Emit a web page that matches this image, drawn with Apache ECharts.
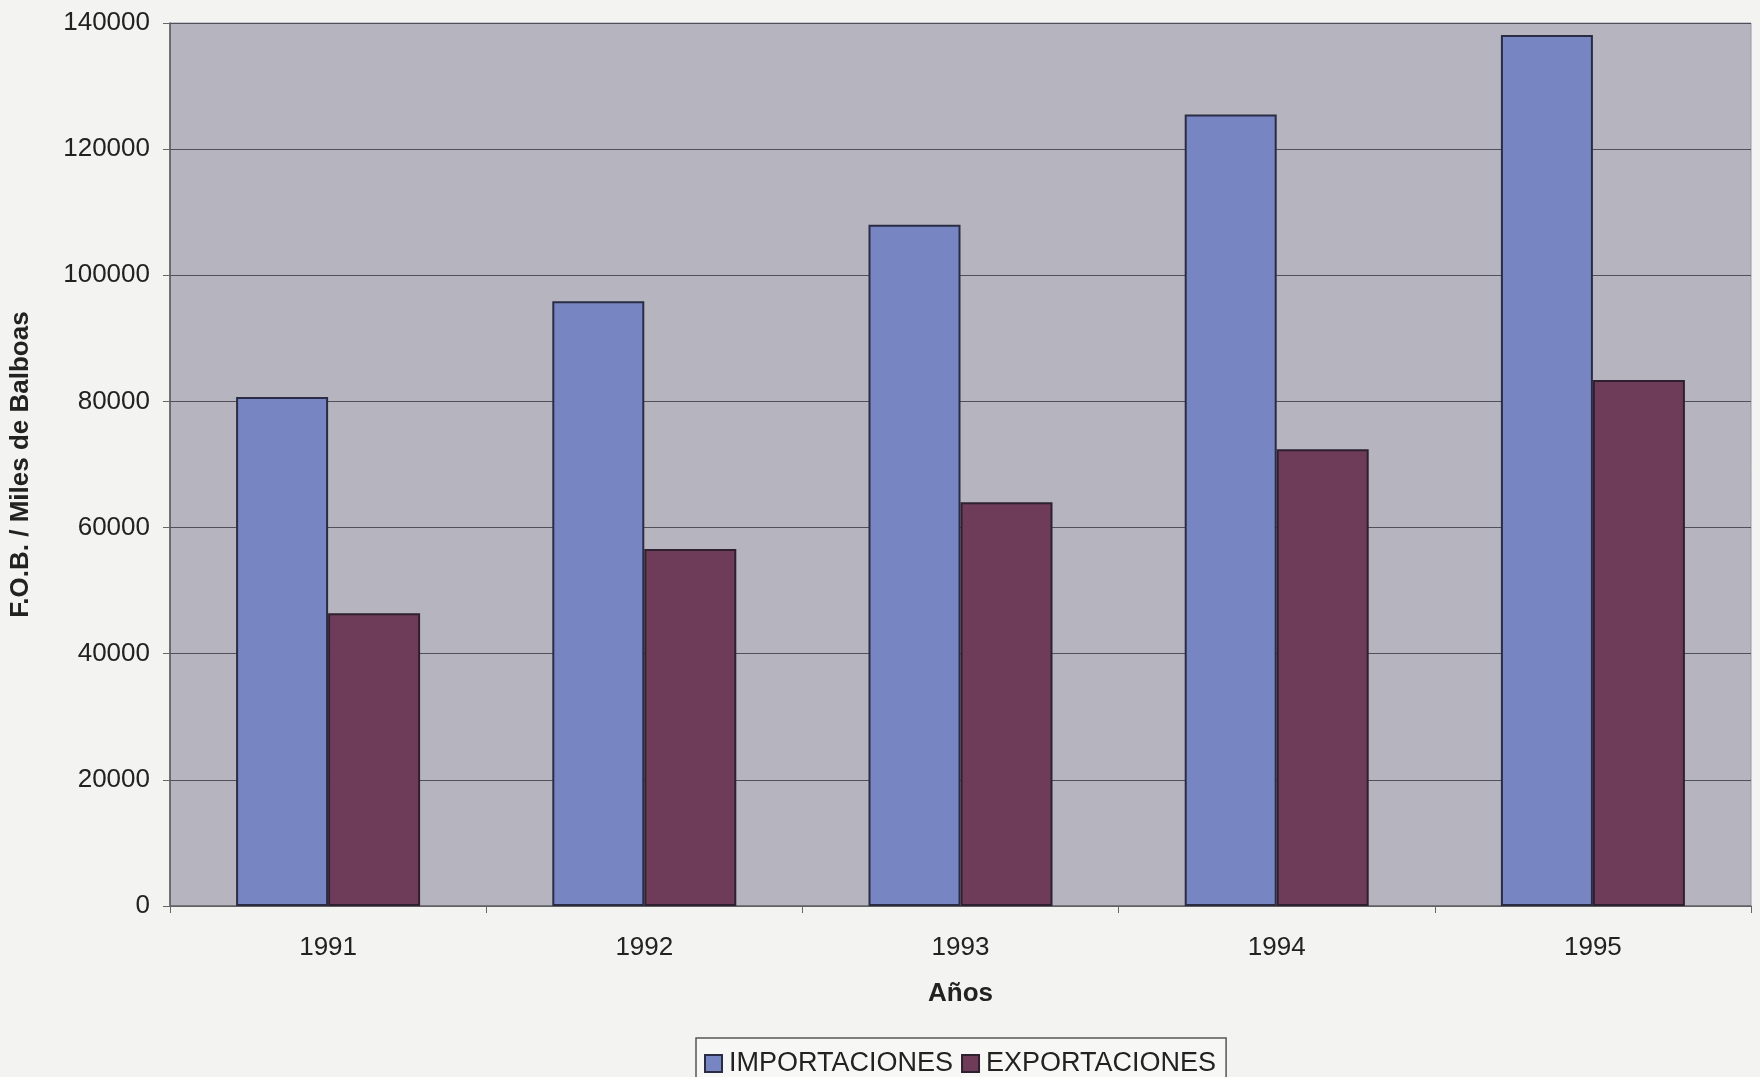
<!DOCTYPE html>
<html>
<head>
<meta charset="utf-8">
<style>
  html, body { margin: 0; padding: 0; background: #f3f3f1; }
  #chart { width: 1760px; height: 1077px; }
</style>
<script src="https://cdn.jsdelivr.net/npm/echarts@6/dist/echarts.min.js"></script>
</head>
<body>
<div id="chart"></div>
<script>
// Trade values, F.O.B., thousands of balboas
const years = ['1991', '1992', '1993', '1994', '1995'];
const importaciones = [80700, 95900, 108000, 125500, 138100];
const exportaciones = [46400, 56600, 64000, 72400, 83400];
const yTicks = { min: 0, max: 140000, interval: 20000 };

const FONT = '"Liberation Sans", Arial, sans-serif';
const chart = echarts.init(document.getElementById('chart'), null, { renderer: 'canvas' });

chart.setOption({
  backgroundColor: '#f3f3f1',
  animation: false,
  textStyle: { fontFamily: FONT },
  grid: {
    left: 167, right: 9, top: 23, bottom: 171,
    show: true, backgroundColor: '#b6b4bf', borderColor: '#9a98a4', borderWidth: 1
  },
  legend: {
    left: 696, top: 1038,
    padding: [12, 10, 12, 8],
    itemGap: 8,
    itemWidth: 17, itemHeight: 17,
    icon: 'rect',
    borderColor: '#555', borderWidth: 1.5,
    backgroundColor: '#f7f7f6',
    textStyle: { fontSize: 27, color: '#222', fontFamily: FONT, padding: [0, 0, 0, 2] },
    data: ['IMPORTACIONES', 'EXPORTACIONES']
  },
  xAxis: {
    type: 'category',
    data: years,
    name: 'Años',
    nameLocation: 'middle',
    nameGap: 75,
    nameTextStyle: { fontSize: 26, fontWeight: 'bold', color: '#222', fontFamily: FONT },
    axisLine: { lineStyle: { color: '#666', width: 1.5 } },
    axisTick: { show: true, length: 7, lineStyle: { color: '#666' } },
    axisLabel: { fontSize: 26, color: '#222', margin: 29, fontFamily: FONT }
  },
  yAxis: {
    type: 'value',
    min: yTicks.min, max: yTicks.max, interval: yTicks.interval,
    name: 'F.O.B. / Miles de Balboas',
    nameLocation: 'middle',
    nameGap: 136,
    nameTextStyle: { fontSize: 26, fontWeight: 'bold', color: '#222', fontFamily: FONT },
    axisLine: { show: true, lineStyle: { color: '#555', width: 1.5 } },
    axisTick: { show: true, length: 7, lineStyle: { color: '#666' } },
    axisLabel: {
      fontSize: 26, color: '#222', margin: 20, fontFamily: FONT,
      formatter: v => String(v)
    },
    splitLine: { show: true, lineStyle: { color: '#50505a', width: 1.2 } }
  },
  series: [
    {
      name: 'IMPORTACIONES',
      type: 'bar',
      data: importaciones,
      barWidth: 92,
      barGap: '0%',
      itemStyle: { color: '#7785c3', borderColor: '#2a2c44', borderWidth: 2 }
    },
    {
      name: 'EXPORTACIONES',
      type: 'bar',
      data: exportaciones,
      barWidth: 92,
      barGap: '0%',
      itemStyle: { color: '#6e3b58', borderColor: '#2e2030', borderWidth: 2 }
    }
  ]
});
</script>
</body>
</html>
